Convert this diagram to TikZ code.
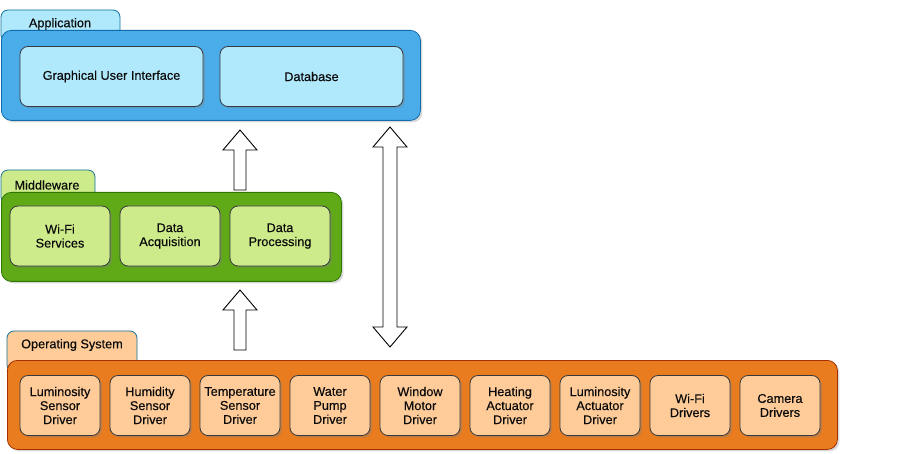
\documentclass[tikz,border=0pt]{standalone}
\usepackage{fontspec}
\setmainfont{Liberation Sans}[UprightFeatures={FakeBold=0.35}]
\usetikzlibrary{shadows}
\definecolor{appfill}{RGB}{74,173,234}
\definecolor{appline}{RGB}{16,108,172}
\definecolor{applight}{RGB}{177,233,252}
\definecolor{midfill}{RGB}{96,169,23}
\definecolor{midline}{RGB}{45,118,0}
\definecolor{midlight}{RGB}{205,235,139}
\definecolor{osfill}{RGB}{232,124,30}
\definecolor{osline}{RGB}{163,47,0}
\definecolor{oslight}{RGB}{255,204,153}
\definecolor{tabline}{RGB}{16,115,158}
\definecolor{boxline}{RGB}{54,57,61}
\definecolor{txt}{RGB}{10,10,10}
\begin{document}
\begin{tikzpicture}[x=1pt,y=-1pt,
  every node/.style={font=\fontsize{12.7}{14}\selectfont, text=txt},
  tabbox/.style={draw=tabline, line width=0.8pt, rounded corners=7pt},
  layer/.style={line width=0.8pt, rounded corners=10pt, drop shadow={shadow xshift=2pt, shadow yshift=-2pt, opacity=0.3}},
  inner/.style={draw=boxline, line width=0.8pt, rounded corners=8pt, align=center, inner sep=0pt,
    drop shadow={shadow xshift=2pt, shadow yshift=-2pt, opacity=0.35}},
  blockarrow/.style={draw=black, fill=white, line width=0.9pt, line join=miter}
]
\useasboundingbox (0,0) rectangle (921,454);

% ---------- Application ----------
\draw[tabbox, fill=applight] (1,10) rectangle (120,42);
\node (apptab) at (60,24) {Application};
\node[layer, draw=appline, fill=appfill, minimum width=419pt, minimum height=90pt, anchor=north west] (app) at (1,30) {};
\node[inner, fill=applight, minimum width=183pt, minimum height=60pt] (gui) at (111.5,76.5) {Graphical User Interface};
\node[inner, fill=applight, minimum width=183pt, minimum height=60pt] (db) at (311.5,76.5) {Database};

% ---------- Middleware ----------
\draw[tabbox, fill=midlight] (1,170) rectangle (95,204);
\node (midtab) at (47,185) {Middleware};
\node[layer, draw=midline, fill=midfill, minimum width=340pt, minimum height=89pt, anchor=north west] (mid) at (1,192) {};
\node[inner, fill=midlight, minimum width=100pt, minimum height=60pt] (wifi) at (60,236) {Wi-Fi\\Services};
\node[inner, fill=midlight, minimum width=100pt, minimum height=60pt] (acq) at (170,236) {Data\\Acquisition};
\node[inner, fill=midlight, minimum width=100pt, minimum height=60pt] (proc) at (280,236) {Data\\Processing};

% ---------- Operating System ----------
\draw[tabbox, fill=oslight] (7,331) rectangle (137,372);
\node (ostab) at (72,345) {Operating System};
\node[layer, draw=osline, fill=osfill, minimum width=830pt, minimum height=89pt, anchor=north west] (os) at (7,360) {};
\foreach \i/\t in {0/{Luminosity\\Sensor\\Driver},1/{Humidity\\Sensor\\Driver},2/{Temperature\\Sensor\\Driver},
  3/{Water\\Pump\\Driver},4/{Window\\Motor\\Driver},5/{Heating\\Actuator\\Driver},
  6/{Luminosity\\Actuator\\Driver},7/{Wi-Fi\\Drivers},8/{Camera\\Drivers}}{
  \node[inner, fill=oslight, minimum width=80pt, minimum height=60pt] (drv\i) at (60+90*\i,405.5) {\t};
}

% ---------- Block arrows ----------
\coordinate (a1b) at (240,190);
\coordinate (a1t) at (240,130);
\draw[blockarrow] ([xshift=-6pt]a1b) -- ([xshift=-6pt,yshift=-20pt]a1t) -- ([xshift=-17pt,yshift=-20pt]a1t)
  -- (a1t) -- ([xshift=17pt,yshift=-20pt]a1t) -- ([xshift=6pt,yshift=-20pt]a1t) -- ([xshift=6pt]a1b) -- cycle;

\coordinate (a2b) at (240,350);
\coordinate (a2t) at (240,290);
\draw[blockarrow] ([xshift=-6pt]a2b) -- ([xshift=-6pt,yshift=-20pt]a2t) -- ([xshift=-17pt,yshift=-20pt]a2t)
  -- (a2t) -- ([xshift=17pt,yshift=-20pt]a2t) -- ([xshift=6pt,yshift=-20pt]a2t) -- ([xshift=6pt]a2b) -- cycle;

\coordinate (dbt) at (390,127);
\coordinate (dbb) at (390,347);
\draw[blockarrow] (dbt) -- ([xshift=17pt,yshift=-20pt]dbt) -- ([xshift=7pt,yshift=-20pt]dbt)
  -- ([xshift=7pt,yshift=20pt]dbb) -- ([xshift=17pt,yshift=20pt]dbb) -- (dbb)
  -- ([xshift=-17pt,yshift=20pt]dbb) -- ([xshift=-7pt,yshift=20pt]dbb) -- ([xshift=-7pt,yshift=-20pt]dbt)
  -- ([xshift=-17pt,yshift=-20pt]dbt) -- cycle;
\end{tikzpicture}
\end{document}
